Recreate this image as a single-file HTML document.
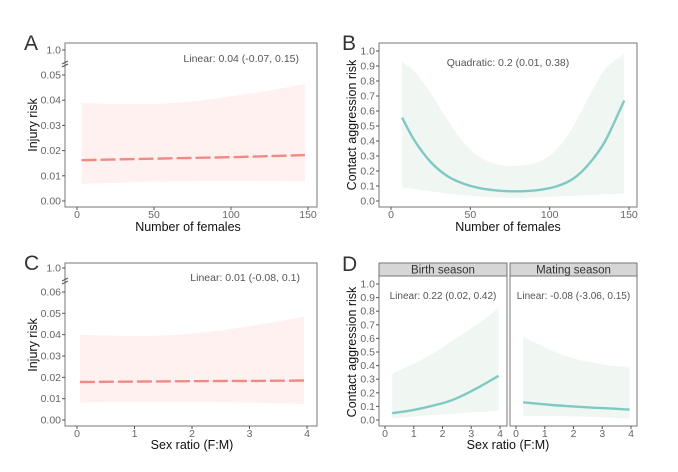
<!DOCTYPE html>
<html><head><meta charset="utf-8">
<style>
html,body{margin:0;padding:0;background:#fff;}
svg{display:block;font-family:"Liberation Sans",Arial,sans-serif;}
</style></head>
<body>
<svg id="fig" width="678" height="472" viewBox="0 0 678 472"></svg>
<script>
// Panel A: injury risk vs number of females
const aX = [3, 25, 50, 75, 100, 125, 148];
const aFit = [0.0162, 0.0165, 0.0168, 0.0171, 0.0174, 0.0178, 0.0182];
const aLo = [0.0068, 0.0072, 0.0076, 0.0079, 0.0080, 0.0079, 0.0077];
const aHi = [0.0389, 0.0385, 0.0385, 0.0395, 0.0415, 0.0438, 0.0465];
// Panel B: contact aggression vs number of females
const bX = [7, 15, 25, 35, 45, 55, 65, 75, 85, 95, 105, 115, 125, 135, 147];
const bFit = [0.555, 0.40, 0.26, 0.17, 0.118, 0.088, 0.072, 0.065, 0.066, 0.076, 0.10, 0.15, 0.25, 0.40, 0.67];
const bLo = [0.09, 0.08, 0.065, 0.05, 0.04, 0.03, 0.025, 0.022, 0.022, 0.025, 0.03, 0.035, 0.04, 0.045, 0.05];
const bHi = [0.93, 0.86, 0.72, 0.55, 0.40, 0.30, 0.25, 0.235, 0.24, 0.27, 0.35, 0.50, 0.70, 0.88, 0.98];
// Panel C: injury risk vs sex ratio
const cX = [0.05, 0.5, 1, 1.5, 2, 2.5, 3, 3.5, 3.95];
const cFit = [0.0178, 0.0179, 0.0180, 0.0181, 0.0182, 0.0183, 0.0183, 0.0184, 0.0185];
const cLo = [0.0082, 0.0084, 0.0085, 0.0085, 0.0085, 0.0083, 0.0081, 0.0078, 0.0075];
const cHi = [0.0400, 0.0396, 0.0394, 0.0396, 0.0405, 0.0420, 0.0440, 0.0462, 0.0485];
// Panel D: contact aggression vs sex ratio, by season
const dX = [0.25, 0.75, 1.25, 1.75, 2.25, 2.75, 3.25, 3.75, 3.95];
const dBirthFit = [0.05, 0.065, 0.085, 0.11, 0.14, 0.185, 0.24, 0.30, 0.325];
const dBirthLo = [0.01, 0.02, 0.03, 0.037, 0.045, 0.052, 0.058, 0.065, 0.068];
const dBirthHi = [0.34, 0.39, 0.44, 0.50, 0.57, 0.64, 0.71, 0.79, 0.83];
const dMateFit = [0.13, 0.12, 0.11, 0.102, 0.096, 0.09, 0.085, 0.079, 0.077];
const dMateLo = [0.03, 0.03, 0.029, 0.027, 0.025, 0.022, 0.018, 0.013, 0.011];
const dMateHi = [0.61, 0.56, 0.51, 0.47, 0.44, 0.42, 0.40, 0.395, 0.39];

const svg = document.getElementById('fig');
const NS = 'http://www.w3.org/2000/svg';
function mk(tag, attrs, parent){
  const e = document.createElementNS(NS, tag);
  for (const k in attrs) e.setAttribute(k, attrs[k]);
  (parent||svg).appendChild(e);
  return e;
}
function txt(x,y,s,size,fill,anchor,name,rot){
  const t = mk('text',{x:x,y:y,'font-size':size,fill:fill,'text-anchor':anchor||'middle'});
  if (rot) t.setAttribute('transform','rotate(-90 '+x+' '+y+')');
  t.textContent = s;
  
  
  return t;
}
function lin(d0,d1,r0,r1){ return v => r0 + (v-d0)/(d1-d0)*(r1-r0); }
function smooth(pts, move){
  let d = (move ? 'M' : 'L') + pts[0][0].toFixed(1)+','+pts[0][1].toFixed(1);
  for (let i=0;i<pts.length-1;i++){
    const p0 = pts[Math.max(0,i-1)], p1 = pts[i], p2 = pts[i+1], p3 = pts[Math.min(pts.length-1,i+2)];
    const c1 = [p1[0]+(p2[0]-p0[0])/6, p1[1]+(p2[1]-p0[1])/6];
    const c2 = [p2[0]-(p3[0]-p1[0])/6, p2[1]-(p3[1]-p1[1])/6];
    d += 'C'+c1[0].toFixed(1)+','+c1[1].toFixed(1)+' '+c2[0].toFixed(1)+','+c2[1].toFixed(1)+' '+p2[0].toFixed(1)+','+p2[1].toFixed(1);
  }
  return d;
}
function series(xs, fit, lo, hi, sx, sy, col, fillc, dashed, name){
  const hp = xs.map((x,i)=>[sx(x), sy(hi[i])]);
  const lp = xs.map((x,i)=>[sx(x), sy(lo[i])]).reverse();
  const r = mk('path',{d:smooth(hp,true)+smooth(lp,false)+'Z',fill:fillc,stroke:'none'});
  
  
  const fp = xs.map((x,i)=>[sx(x), sy(fit[i])]);
  const ln = mk('path',{d:smooth(fp,true),fill:'none',stroke:col,'stroke-width':2.4,'stroke-dasharray':dashed?'15 4':'none','stroke-linejoin':'round'});
  
  
}
function box(x0,y0,x1,y1,name){
  const r = mk('rect',{x:x0,y:y0,width:x1-x0,height:y1-y0,fill:'none',stroke:'#777','stroke-width':1});
  
  
}
function yTicks(x0, vals, labels, sy){
  vals.forEach((v,i)=>{
    const y = sy(v);
    mk('line',{x1:x0-3,x2:x0,y1:y,y2:y,stroke:'#555'});
    txt(x0-4,y+3.5,labels[i],10.5,'#666','end','y-tick-label');
  });
}
function xTicks(y0, vals, sx, yl){
  vals.forEach(v=>{
    const x = sx(v);
    mk('line',{x1:x,x2:x,y1:y0,y2:y0+3,stroke:'#555'});
    txt(x,yl,String(v),10.5,'#666','middle','x-tick-label');
  });
}
function brk(x,y){ mk('path',{d:'M'+(x-3)+','+(y+1)+'L'+(x+3)+','+(y-2)+'M'+(x-3)+','+(y+4)+'L'+(x+3)+','+(y+1),stroke:'#555','stroke-width':1,fill:'none'}); }

const RED='#f08a86', REDF='#fff1ef', TEAL='#80c9c3', TEALF='#f0f7f2';
// ---- Panel A
{
  const sx = lin(0,150,77,308), sy = lin(0,0.05,201,75);
  series(aX,aFit,aLo,aHi,sx,sy,RED,REDF,true,'panel-a');
  box(65,43,317,207,'panel-a-plot');
  yTicks(65,[0,0.01,0.02,0.03,0.04,0.05],['0.00','0.01','0.02','0.03','0.04','0.05'],sy);
  mk('line',{x1:62,x2:65,y1:50,y2:50,stroke:'#555'}); txt(61,53.5,'1.0',10.5,'#666','end','y-tick-label');
  brk(65,63);
  xTicks(207,[0,50,100,150],sx,218);
  txt(188,231,'Number of females',12.5,'#111','middle','x-axis-title');
  txt(37,125,'Injury risk',12.5,'#111','middle','y-axis-title',true);
  txt(299,62,'Linear: 0.04 (-0.07, 0.15)',10.5,'#555','end','panel-a-annotation');
  txt(24,50,'A',21,'#333','start','panel-a-label');
}
// ---- Panel B
{
  const sx = lin(0,150,391,629), sy = lin(0,1,201,51);
  series(bX,bFit,bLo,bHi,sx,sy,TEAL,TEALF,false,'panel-b');
  box(379,43,637,207,'panel-b-plot');
  const v=[0,0.1,0.2,0.3,0.4,0.5,0.6,0.7,0.8,0.9,1.0];
  yTicks(379,v,v.map(a=>a.toFixed(1)),sy);
  xTicks(207,[0,50,100,150],sx,218);
  txt(508,231,'Number of females',12.5,'#111','middle','x-axis-title');
  txt(356,125,'Contact aggression risk',12.5,'#111','middle','y-axis-title',true);
  txt(508,66,'Quadratic: 0.2 (0.01, 0.38)',10.5,'#555','middle','panel-b-annotation');
  txt(342,50,'B',21,'#333','start','panel-b-label');
}
// ---- Panel C
{
  const sx = lin(0,4,77,307), sy = lin(0,0.06,420,292);
  series(cX,cFit,cLo,cHi,sx,sy,RED,REDF,true,'panel-c');
  box(65,263,317,426,'panel-c-plot');
  yTicks(65,[0,0.01,0.02,0.03,0.04,0.05,0.06],['0.00','0.01','0.02','0.03','0.04','0.05','0.06'],sy);
  mk('line',{x1:62,x2:65,y1:268,y2:268,stroke:'#555'}); txt(61,271.5,'1.0',10.5,'#666','end','y-tick-label');
  brk(65,280);
  xTicks(426,[0,1,2,3,4],sx,437);
  txt(192,449,'Sex ratio (F:M)',12.5,'#111','middle','x-axis-title');
  txt(37,345,'Injury risk',12.5,'#111','middle','y-axis-title',true);
  txt(300,281,'Linear: 0.01 (-0.08, 0.1)',10.5,'#555','end','panel-c-annotation');
  txt(24,270,'C',21,'#333','start','panel-c-label');
}
// ---- Panel D
{
  const sy = lin(0,1,420,284);
  const facets = [
    {x0:379,x1:507,z0:385,z4:500,fit:dBirthFit,lo:dBirthLo,hi:dBirthHi,title:'Birth season',ann:'Linear: 0.22 (0.02, 0.42)',n:'birth'},
    {x0:510,x1:637,z0:516,z4:631,fit:dMateFit,lo:dMateLo,hi:dMateHi,title:'Mating season',ann:'Linear: -0.08 (-3.06, 0.15)',n:'mating'}
  ];
  facets.forEach(f=>{
    const sx = lin(0,4,f.z0,f.z4);
    series(dX,f.fit,f.lo,f.hi,sx,sy,TEAL,TEALF,false,'panel-d-'+f.n);
    box(f.x0,276,f.x1,426,'panel-d-'+f.n+'-plot');
    const s = mk('rect',{x:f.x0,y:263,width:f.x1-f.x0,height:13,fill:'#d6d6d6',stroke:'#777'});
    
    
    txt((f.x0+f.x1)/2,273.5,f.title,11.5,'#333','middle','strip-label');
    xTicks(426,[0,1,2,3,4],sx,437);
    txt((f.x0+f.x1)/2,299,f.ann,10,'#555','middle','panel-d-annotation');
  });
  const v=[0,0.1,0.2,0.3,0.4,0.5,0.6,0.7,0.8,0.9,1.0];
  yTicks(379,v,v.map(a=>a.toFixed(1)),sy);
  txt(508,449,'Sex ratio (F:M)',12.5,'#111','middle','x-axis-title');
  txt(356,352,'Contact aggression risk',12.5,'#111','middle','y-axis-title',true);
  txt(342,271,'D',21,'#333','start','panel-d-label');
}
</script>
</body></html>
